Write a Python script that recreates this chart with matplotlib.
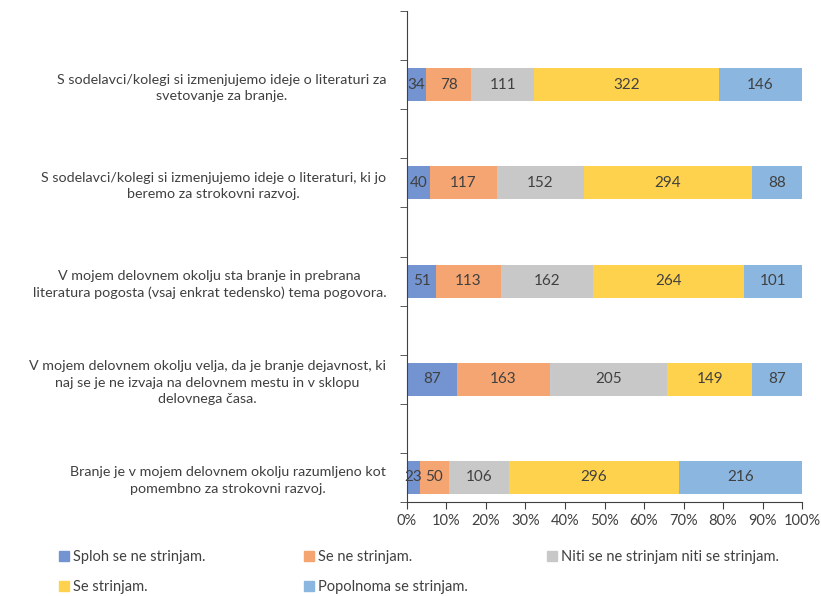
import numpy as np
import matplotlib
matplotlib.use("Agg")
import matplotlib.pyplot as plt
from matplotlib.patches import Patch

plt.rcParams['font.family'] = ['Lato', 'DejaVu Sans']

statements = [
    "S sodelavci/kolegi si izmenjujemo ideje o literaturi za\nsvetovanje za branje.",
    "S sodelavci/kolegi si izmenjujemo ideje o literaturi, ki jo\nberemo za strokovni razvoj.",
    "V mojem delovnem okolju sta branje in prebrana\nliteratura pogosta (vsaj enkrat tedensko) tema pogovora.",
    "V mojem delovnem okolju velja, da je branje dejavnost, ki\nnaj se je ne izvaja na delovnem mestu in v sklopu\ndelovnega časa.",
    "Branje je v mojem delovnem okolju razumljeno kot\npomembno za strokovni razvoj.",
]
series_names = ["Sploh se ne strinjam.", "Se ne strinjam.",
                "Niti se ne strinjam niti se strinjam.", "Se strinjam.",
                "Popolnoma se strinjam."]
splosh = [34, 40, 51, 87, 23]
se_ne = [78, 117, 113, 163, 50]
niti = [111, 152, 162, 205, 106]
se_strinjam = [322, 294, 264, 149, 296]
popolnoma = [146, 88, 101, 87, 216]
colors = ["#7394d1", "#f4a571", "#c8c8c8", "#ffd24d", "#8ab6e0"]

counts = np.array([splosh, se_ne, niti, se_strinjam, popolnoma], dtype=float)
pct = counts / counts.sum(axis=0)

fig = plt.figure(figsize=(8.21, 5.96), dpi=100)
ax = fig.add_axes([0.4957, 0.1577, 0.4812, 0.8238])

# every statement sits in every second slot (empty rows between them)
ypos = np.arange(len(statements)) * 2 + 1
left = np.zeros(len(statements))
for i in range(len(series_names)):
    bars = ax.barh(ypos, pct[i], left=left, height=0.67, color=colors[i],
                   label=series_names[i])
    for j, b in enumerate(bars):
        ax.text(left[j] + pct[i][j] / 2, ypos[j], "%d" % counts[i][j],
                ha='center', va='center', fontsize=11, color='#404040')
    left += pct[i]

ax.set_ylim(9.5, -0.5)
ax.set_xlim(0, 1)
ax.set_yticks(ypos)
ax.set_yticklabels(statements, multialignment='center', fontsize=10.3,
                   color='#404040', linespacing=1.45)
ax.set_yticks(np.arange(-0.5, 10, 1), minor=True)
ax.tick_params(axis='y', which='major', length=0, pad=15)
ax.tick_params(axis='y', which='minor', length=5, color='#404040')
ax.set_xticks(np.linspace(0, 1, 11))
ax.set_xticklabels(["%d%%" % v for v in range(0, 101, 10)], fontsize=10.5,
                   color='#404040')
ax.tick_params(axis='x', length=5, color='#404040')

for s in ['top', 'right']:
    ax.spines[s].set_visible(False)
ax.spines['left'].set_color('#404040')
ax.spines['bottom'].set_color('#404040')

legend_pos = [(0.0646, 0.0654), (0.363, 0.0654), (0.659, 0.0654),
              (0.0646, 0.0151), (0.363, 0.0151)]
for i in range(len(series_names)):
    fig.legend([Patch(color=colors[i])], [series_names[i]], loc='center left',
               bbox_to_anchor=legend_pos[i], frameon=False, fontsize=10.5,
               handlelength=0.7, handleheight=0.7, handletextpad=0.3,
               borderaxespad=0, labelcolor='#404040')

fig.savefig("out.png", dpi=100)
